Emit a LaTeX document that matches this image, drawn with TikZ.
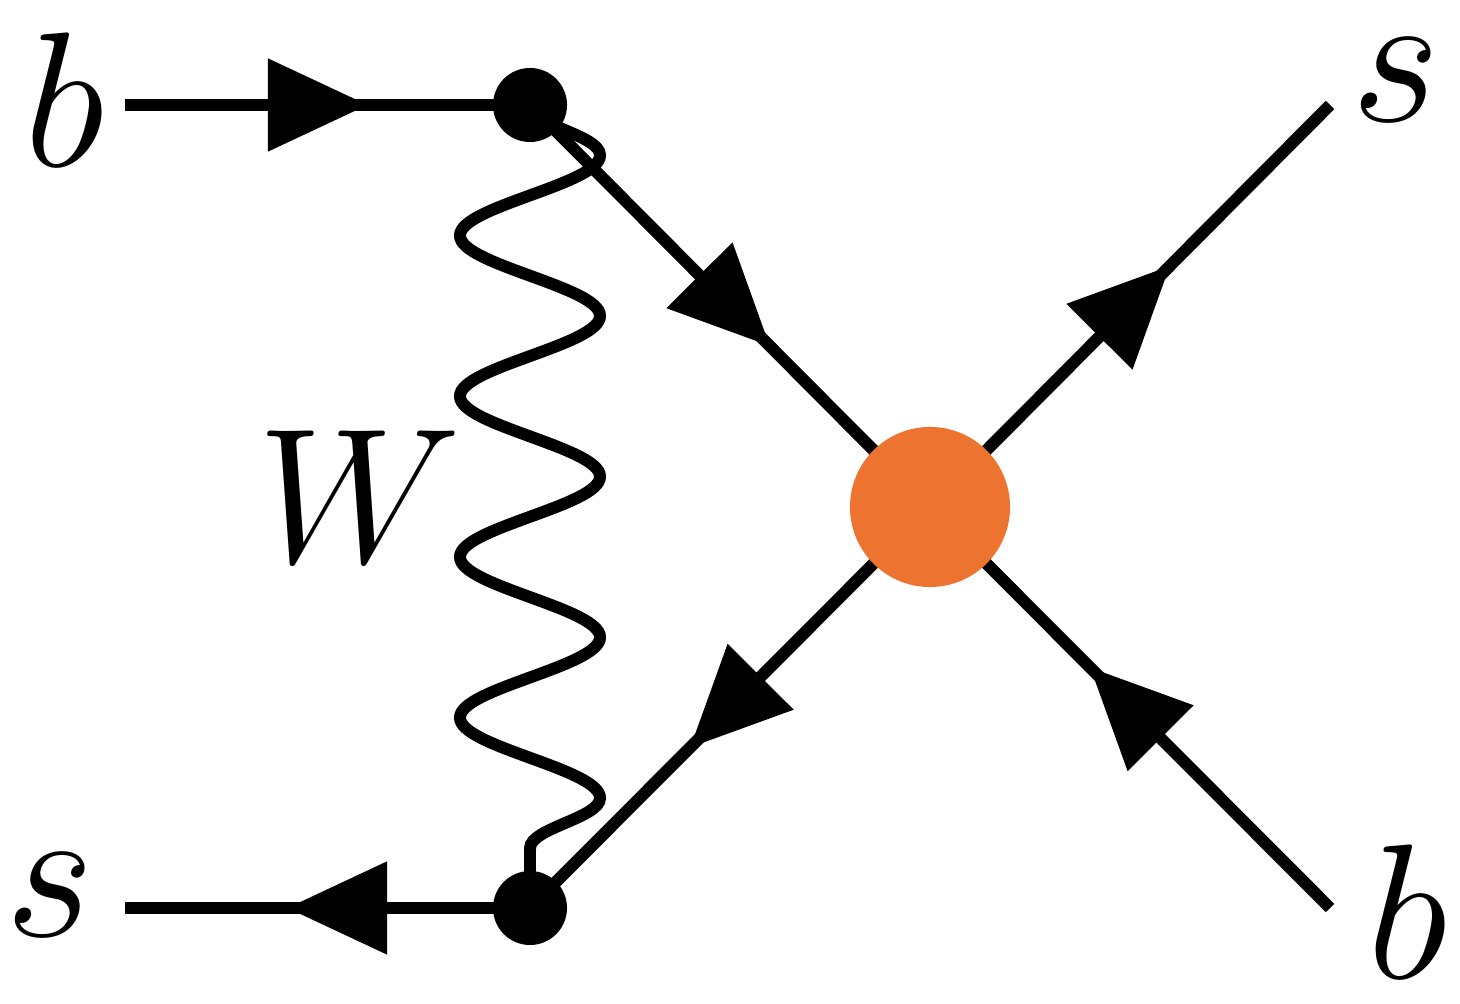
\documentclass[tikz,border=0pt]{standalone}
\usetikzlibrary{arrows.meta,decorations.markings,decorations.pathmorphing}
\tikzset{
  fermion/.style={line width=3.4pt,postaction={decorate},
    decoration={markings,mark=at position #1 with {\arrow{Triangle[length=1cm,width=0.9cm]}}}},
  fermion/.default=0.6,
  boson/.style={line width=3.4pt,decorate,
    decoration={snake,amplitude=0.7cm,segment length=1.606cm}},
  lbl/.style={font=\Huge}
}
\newcommand{\biglbl}[1]{\scalebox{2.2}{$#1$}}
\begin{document}
\begin{tikzpicture}[x=0.01cm,y=-0.01cm]
\useasboundingbox (0,0) rectangle (1460,1004);
% vertices
\coordinate (vt) at (530,105);
\coordinate (vb) at (530,908);
\coordinate (bin) at (125,105);
\coordinate (sout) at (125,908);
\coordinate (sr) at (1330,105);
\coordinate (br) at (1330,908);
\node (blob) [circle,inner sep=0pt,minimum size=1.6cm] at (930,507) {};
% lines
\draw [fermion] (bin) -- (vt);
\draw [fermion] (vb) -- (sout);
\draw [fermion] (vt) -- (blob.center);
\draw [fermion] (blob.center) -- (vb);
\draw [fermion] (blob.center) -- (sr);
\draw [fermion] (br) -- (blob.center);
\fill [color={rgb,255:red,237;green,116;blue,48}] (blob.center) circle (0.8cm);
\draw [boson] (vt) -- (vb);
\fill (vt) circle (0.37cm);
\fill (vb) circle (0.37cm);
% labels
\node (lb1) [lbl] at (65,100) {\biglbl{b}};
\node (ls1) [lbl] at (50,895) {\biglbl{s}};
\node (ls2) [lbl] at (1396,80) {\biglbl{s}};
\node (lb2) [lbl] at (1408,912) {\biglbl{b}};
\node (lw) [lbl] at (360,497) {\biglbl{W}};
\end{tikzpicture}
\end{document}
